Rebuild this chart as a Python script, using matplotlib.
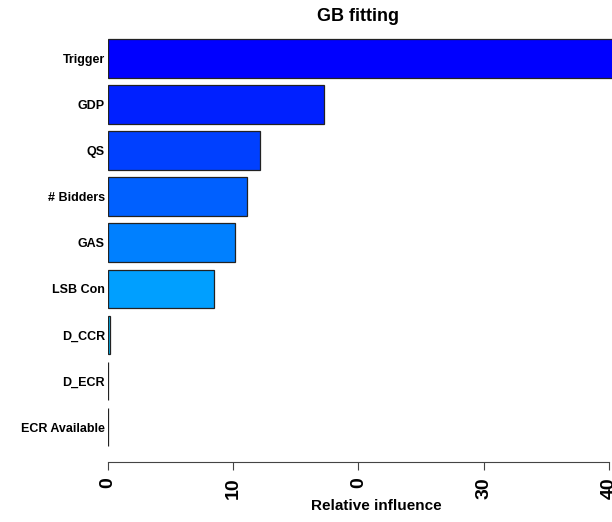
import matplotlib
matplotlib.use('Agg')
import matplotlib.pyplot as plt
import numpy as np

plt.rcParams['font.family'] = ['Liberation Sans', 'DejaVu Sans']

# relative influence of each predictor, biggest first
variables = ['Trigger', 'GDP', 'QS', '# Bidders', 'GAS', 'LSB Con',
             'D_CCR', 'D_ECR', 'ECR Available']
influence = [42.0, 17.26, 12.13, 11.09, 10.12, 8.45, 0.18, 0.0, 0.0]
bar_colors = ['#0000FF', '#0020FF', '#0040FF', '#0060FF', '#0080FF',
              '#009FFF', '#00BFFF', '#00DFFF', '#00FFFF']
x_ticks = [0, 10, 20, 30, 40]
x_tick_labels = ['0', '10', '0', '30', '40']

W, H = 612, 522
fig = plt.figure(figsize=(W / 100, H / 100), dpi=100)
left_px, right_px, top_px, bottom_px = 107.7, 612, 30, 462.3
ax = fig.add_axes([left_px / W, 1 - bottom_px / H,
                   (right_px - left_px) / W, (bottom_px - top_px) / H])

pos = np.arange(len(variables))
ax.barh(pos, influence, height=0.835, color=bar_colors,
        edgecolor='#222222', linewidth=0.9)

ax.set_xlim(0, (right_px - left_px) / 12.53)
ax.set_ylim(8.764, -0.614)

ax.set_yticks(pos)
ax.set_yticklabels(variables, fontsize=9, fontweight='bold')
ax.tick_params(axis='y', length=0, pad=2)

ax.set_xticks(x_ticks)
ax.set_xticklabels(x_tick_labels, rotation=90, fontsize=14, fontweight='bold')
ax.tick_params(axis='x', length=5.5, width=0.8, color='#444444', pad=5)

for side in ['top', 'right', 'left']:
    ax.spines[side].set_visible(False)
ax.spines['bottom'].set_bounds(0, 40)
ax.spines['bottom'].set_color('#444444')
ax.spines['bottom'].set_linewidth(0.8)

fig.text(358 / W, 1 - 21 / H, 'GB fitting', ha='center', va='baseline',
         fontsize=13, fontweight='bold')
fig.text(376 / W, 1 - 510 / H, 'Relative influence', ha='center',
         va='baseline', fontsize=11, fontweight='bold')

fig.savefig('out.png', dpi=100)
